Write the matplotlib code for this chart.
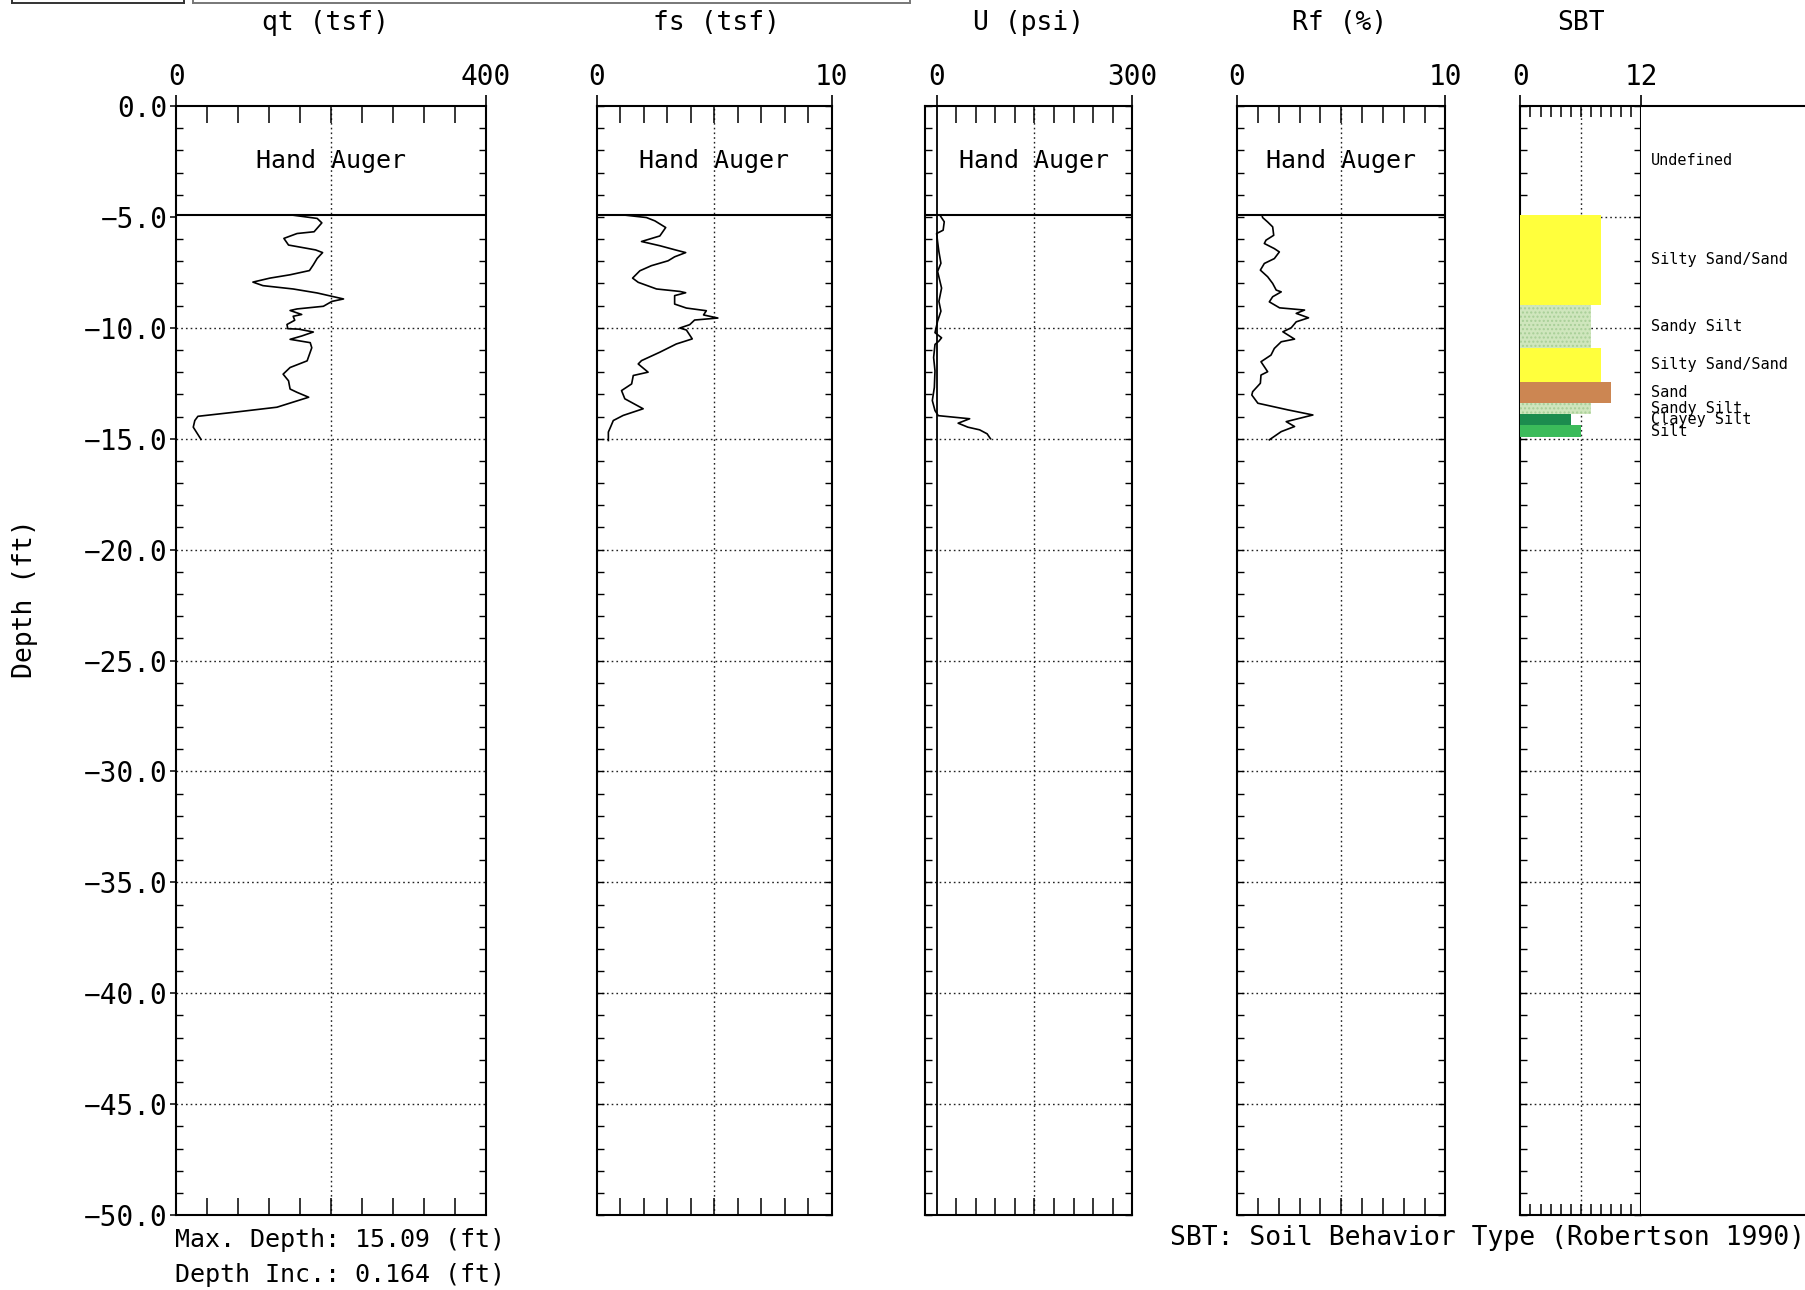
import matplotlib
matplotlib.use("Agg")
import matplotlib.pyplot as plt
from matplotlib.ticker import MultipleLocator, FixedLocator, NullFormatter, FixedFormatter
from matplotlib.lines import Line2D

plt.rcParams['font.family'] = ['DejaVu Sans Mono', 'DejaVu Sans']

# ---------------- sounding data (depth in ft below ground) ----------------
hand_auger_depth = 4.92
max_depth = 15.09
depth_inc = 0.164
plot_depth = 50.0

qt_depth = [4.92, 5.07, 5.27, 5.67, 5.75, 5.97, 6.27, 6.42, 6.49, 6.61, 6.87, 7.16, 7.42,
            7.61, 7.76, 7.94, 8.10, 8.25, 8.43, 8.70, 8.81, 9.03, 9.15, 9.22, 9.40, 9.48,
            9.66, 9.85, 10.04, 10.06, 10.19, 10.37, 10.52, 10.67, 10.90, 11.49, 11.79,
            12.09, 12.39, 12.76, 12.91, 13.13, 13.58, 13.81, 13.99, 14.18, 14.48, 14.70, 15.03]
qt_tsf = [150, 182, 188, 178, 156, 139, 145, 169, 180, 189, 182, 177, 172,
          147, 121, 99, 112, 151, 182, 216, 201, 190, 156, 147, 162, 151,
          153, 143, 144, 158, 177, 162, 147, 173, 175, 169, 147,
          138, 145, 147, 156, 171, 130, 74, 28, 24, 22, 26, 32]

fs_depth = [4.92, 5.03, 5.18, 5.48, 5.86, 6.11, 6.30, 6.50, 6.61, 6.80, 6.98, 7.20, 7.43,
            7.76, 7.95, 8.25, 8.36, 8.42, 8.55, 8.93, 9.11, 9.23, 9.42, 9.56, 9.65, 9.86,
            10.01, 10.10, 10.50, 10.73, 11.10, 11.48, 11.63, 12.00, 12.15, 12.53, 12.83,
            13.20, 13.65, 13.95, 14.18, 14.48, 14.70, 15.08]
fs_tsf = [1.2, 2.12, 2.48, 2.94, 2.69, 1.91, 2.69, 3.39, 3.79, 3.32, 3.04, 2.33, 1.84,
          1.53, 1.77, 2.55, 3.54, 3.79, 3.32, 3.32, 3.82, 4.67, 4.55, 5.16, 4.17, 3.96,
          3.54, 3.82, 4.07, 3.39, 2.69, 1.91, 1.77, 2.19, 1.56, 1.49, 1.06,
          1.20, 1.98, 1.13, 0.71, 0.59, 0.50, 0.50]

u_depth = [4.92, 5.04, 5.22, 5.60, 5.75, 6.12, 6.57, 7.09, 7.46, 8.21, 8.81, 9.25, 9.70,
           10.22, 10.45, 10.60, 10.75, 11.34, 11.94, 12.69, 13.28, 13.73, 13.96, 14.10,
           14.30, 14.48, 14.60, 14.78, 15.00]
u_psi = [5, 7.6, 11.7, 10, 0, 1.5, 3.5, 6.6, 1.5, 7.6, 3.5, 6.6, 1.5,
         -2.5, 7.6, 3.5, -2.5, -4.6, -2.5, -3.5, -6.6, -2.5, 2.5, 50.7,
         33, 48, 66, 77.5, 82.6]

rf_depth = [4.92, 5.03, 5.23, 5.45, 5.83, 6.05, 6.20, 6.43, 6.58, 6.88, 7.10, 7.40, 7.70,
            8.00, 8.30, 8.38, 8.60, 8.83, 9.10, 9.20, 9.35, 9.55, 9.73, 10.00, 10.18,
            10.51, 10.63, 10.93, 11.23, 11.53, 11.98, 12.13, 12.50, 12.88, 13.03, 13.40,
            13.70, 13.93, 14.23, 14.45, 14.68, 15.05]
rf_pct = [1.2, 1.23, 1.47, 1.71, 1.76, 1.39, 1.31, 1.79, 2.03, 1.79, 1.31, 1.12, 1.47,
          1.71, 1.88, 2.12, 1.71, 1.55, 2.04, 3.24, 2.84, 3.43, 2.84, 2.60, 2.20,
          2.76, 2.12, 1.79, 1.63, 1.15, 1.47, 1.15, 1.12, 0.75, 0.71, 1.00,
          2.44, 3.64, 2.36, 2.76, 2.12, 1.55]

# Soil behaviour type intervals
sbt_top = [0.0, 4.92, 8.95, 10.90, 12.45, 13.40, 13.87, 14.40]
sbt_bottom = [4.92, 8.95, 10.90, 12.45, 13.40, 13.87, 14.40, 14.92]
sbt_zone = [0, 8, 7, 8, 9, 7, 5, 6]
sbt_label = ["Undefined", "Silty Sand/Sand", "Sandy Silt", "Silty Sand/Sand", "Sand",
             "Sandy Silt", "Clayey Silt", "Silt"]
zone_colors = {5: "#1c8c4e", 6: "#3bbb5a", 7: "#cfe6bd", 8: "#ffff3c", 9: "#cc8652"}

# ---------------- layout ----------------
REF_W, REF_H = 1568.0, 1120.0
fig = plt.figure(figsize=(18.06, 12.90), dpi=100)

def fx(px):
    return px / REF_W

def fy(py):
    return 1 - py / REF_H

top_px, bot_px = 92.0, 1055.0
ax_bottom = fy(bot_px)
ax_height = (bot_px - top_px) / REF_H

LW_SPINE = 1.5
DOT = (0, (1.2, 2.2))

panels = [
    # title, xmin, xmax, minor step, left px, right px, title x px
    ("qt (tsf)", 0, 400, 40, 153, 422, 283),
    ("fs (tsf)", 0, 10, 1, 518, 722, 622),
    ("U (psi)", -18, 300, 30, 803, 983, 893),
    ("Rf (%)", 0, 10, 1, 1074, 1255, 1163),
    ("SBT", 0, 12, 1, 1320, 1425, 1373),
]
curves = [(qt_tsf, qt_depth), (fs_tsf, fs_depth), (u_psi, u_depth), (rf_pct, rf_depth), None]

axes = []
for i, (title, xmin, xmax, step, lpx, rpx, tpx) in enumerate(panels):
    ax = fig.add_axes([fx(lpx), ax_bottom, (rpx - lpx) / REF_W, ax_height])
    axes.append(ax)
    ax.set_xlim(xmin, xmax)
    ax.set_ylim(-plot_depth, 0)
    for sp in ax.spines.values():
        sp.set_linewidth(LW_SPINE)

    xmaj = 0 if xmin < 0 else xmin
    ax.xaxis.set_major_locator(FixedLocator([xmaj, xmax]))
    ax.xaxis.set_major_formatter(FixedFormatter([str(xmaj), str(xmax)]))
    ax.xaxis.set_minor_locator(MultipleLocator(step))
    ax.tick_params(axis='x', which='major', direction='out', top=True, bottom=False,
                   labeltop=True, labelbottom=False, length=8, width=1.2, pad=2.5,
                   labelsize=20)
    tick_len = 8 if title == "SBT" else 12
    ax.tick_params(axis='x', which='minor', direction='in', top=True, bottom=True,
                   length=tick_len, width=1.1)

    ax.yaxis.set_minor_locator(MultipleLocator(1))
    if i == 0:
        ax.yaxis.set_major_locator(FixedLocator([-plot_depth + 5 * k for k in range(11)]))
        ax.yaxis.set_major_formatter(
            FixedFormatter([f"{-plot_depth + 5 * k:.1f}".replace("-", "\u2212")
                            if k < 10 else "0.0" for k in range(11)]))
        ax.tick_params(axis='y', which='major', direction='out', left=True, right=False,
                       length=4, width=1.1, pad=2, labelsize=20)
    else:
        ax.yaxis.set_major_locator(MultipleLocator(5))
        ax.yaxis.set_major_formatter(NullFormatter())
        ax.tick_params(axis='y', which='major', direction='in', left=True, right=True,
                       length=5, width=1.0)
    ax.tick_params(axis='y', which='minor', direction='in', left=True, right=True,
                   length=5, width=1.0)

    # dotted reference grid
    ax.axvline((max(xmin, 0) + xmax) / 2.0, color="#222222", lw=1.0, ls=DOT, zorder=1)
    first = 5 if title == "SBT" else 10
    for d in range(first, int(plot_depth), 5):
        ax.axhline(-d, color="#222222", lw=1.0, ls=DOT, zorder=1)

    fig.text(fx(tpx), fy(20), title, ha='center', va='center', fontsize=19)

    if curves[i] is not None:
        vals, dep = curves[i]
        ax.axhline(-hand_auger_depth, color='black', lw=1.5, zorder=2)
        ax.plot(vals, [-d for d in dep], color='black', lw=1.2, zorder=3)
        ax.text((max(xmin, 0) + xmax) / 2.0, -hand_auger_depth / 2.0, "Hand Auger",
                ha='center', va='center', fontsize=18)
    if xmin < 0:
        ax.axvline(0, color='black', lw=1.3, zorder=2)

# soil behaviour type bars
ax_sbt = axes[4]
for top, bot, zone in zip(sbt_top, sbt_bottom, sbt_zone):
    if zone == 0:
        continue
    hatch = '....' if zone == 7 else None
    ax_sbt.barh(-(top + bot) / 2.0, zone, height=bot - top, left=0,
                color=zone_colors[zone], edgecolor="#a8cf98" if hatch else 'none',
                linewidth=0, hatch=hatch, zorder=3)

# label strip to the right of the SBT column
ax_lab = fig.add_axes([fx(1425), ax_bottom, 0.2, ax_height])
ax_lab.set_xlim(0, 1)
ax_lab.set_ylim(-plot_depth, 0)
ax_lab.set_xticks([])
ax_lab.set_yticks([])
ax_lab.spines['left'].set_visible(False)
ax_lab.spines['right'].set_visible(False)
for s in ('top', 'bottom'):
    ax_lab.spines[s].set_linewidth(LW_SPINE)
for top, bot, lab in zip(sbt_top, sbt_bottom, sbt_label):
    ax_lab.text(0.026, -(top + bot) / 2.0, lab, ha='left', va='center', fontsize=11)

# side and footer annotations
fig.text(fx(22), fy(520), "Depth (ft)", rotation=90, ha='center', va='center', fontsize=19)
fig.text(fx(152), fy(1077), f"Max. Depth: {max_depth:.2f} (ft)", ha='left', va='center',
         fontsize=18)
fig.text(fx(152), fy(1107), f"Depth Inc.: {depth_inc:.3f} (ft)", ha='left', va='center',
         fontsize=18)
fig.text(fx(1016), fy(1075), "SBT: Soil Behavior Type (Robertson 1990)", ha='left',
         va='center', fontsize=19)

# header frame remnants along the top edge
for x0, x1, col in ((10, 160, "#333333"), (168, 790, "#777777")):
    fig.add_artist(Line2D([fx(x0), fx(x1)], [fy(3), fy(3)], color=col, lw=1.4))
    fig.add_artist(Line2D([fx(x0), fx(x0)], [fy(0), fy(3)], color=col, lw=1.4))
    fig.add_artist(Line2D([fx(x1), fx(x1)], [fy(0), fy(3)], color=col, lw=1.4))

fig.savefig("out.png", dpi=100)
